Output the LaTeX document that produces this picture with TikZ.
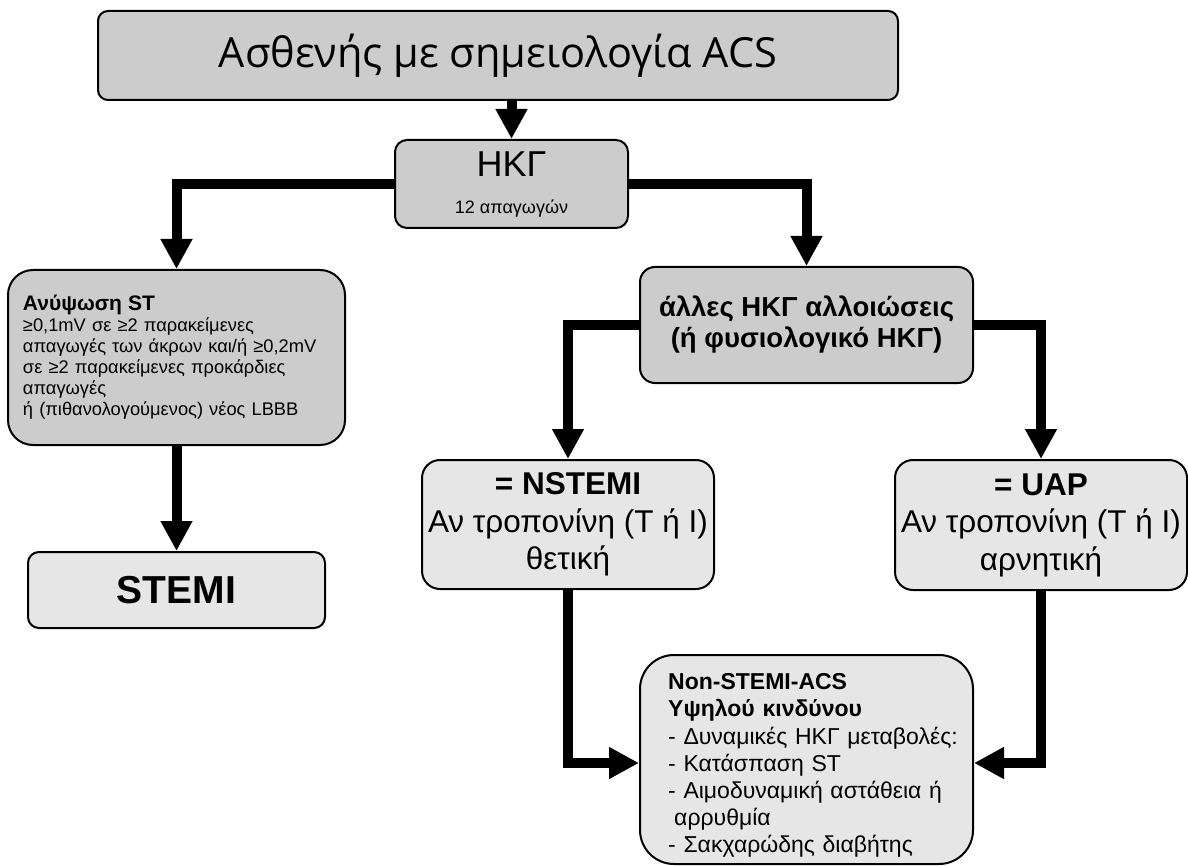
\documentclass[tikz,border=0pt]{standalone}
\usepackage{fontspec}
\setmainfont{Liberation Sans}
\newfontfamily\titlefont{Open Sans}
\usetikzlibrary{arrows.meta}
\definecolor{boxdark}{HTML}{CCCCCC}
\definecolor{boxlight}{HTML}{E6E6E6}
\newcommand{\fs}[2]{\fontsize{#1}{#2}\selectfont}
\begin{document}
\begin{tikzpicture}[x=1pt,y=-1pt,
  darkbox/.style={draw=black, line width=2pt, fill=boxdark, inner sep=0pt, align=center},
  lightbox/.style={draw=black, line width=2pt, fill=boxlight, inner sep=0pt, align=center},
  flow/.style={line width=10pt, line join=miter, -{Triangle[width=30pt,length=30pt]}}
]
\useasboundingbox (0,0) rectangle (1188,866);

% boxes
\node[darkbox, rounded corners=10pt, minimum width=800pt, minimum height=89pt,
  font=\titlefont\fs{41.5}{50}]
  (patient) at (498,55.5) {Ασθενής με σημειολογία ACS};
\node[darkbox, rounded corners=12pt, minimum width=233pt, minimum height=88pt,
  font=\fs{18}{37}]
  (ecg) at (511.5,184) {{\fs{36}{37}ΗΚΓ}\\12 απαγωγών};
\node[darkbox, rounded corners=25pt, minimum width=337pt, minimum height=175pt,
  text width=307pt, align=left, font=\fs{18.3}{21}]
  (ste) at (176.5,357.5) {{\fs{21}{21}\bfseries Ανύψωση ST}\\
  ≥0,1mV σε ≥2 παρακείμενες\\
  απαγωγές των άκρων και/ή ≥0,2mV\\
  σε ≥2 παρακείμενες προκάρδιες\\
  απαγωγές\\
  ή (πιθανολογούμενος) νέος LBBB};
\node[lightbox, rounded corners=11pt, minimum width=297pt, minimum height=76pt,
  font=\bfseries\fs{39}{44}]
  (stemi) at (176.5,590) {STEMI};
\node[darkbox, rounded corners=15pt, minimum width=333pt, minimum height=116pt,
  font=\bfseries\fs{27.5}{31}]
  (other) at (806.5,325) {άλλες ΗΚΓ αλλοιώσεις\\(ή φυσιολογικό ΗΚΓ)};
\node[lightbox, rounded corners=18pt, minimum width=292pt, minimum height=129pt,
  font=\fs{31.5}{37.5}]
  (nstemi) at (568,524.5) {\textbf{= NSTEMI}\\Αν τροπονίνη (Τ ή Ι)\\θετική};
\node[lightbox, rounded corners=18pt, minimum width=292pt, minimum height=130pt,
  font=\fs{31.5}{37.5}]
  (uap) at (1041,525) {\textbf{= UAP}\\Αν τροπονίνη (Τ ή Ι)\\αρνητική};
\node[lightbox, rounded corners=34pt, minimum width=333pt, minimum height=209pt]
  (nsacs) at (806.5,759.5) {};
\node[anchor=north west, inner sep=0pt, text width=300pt, align=left,
  font=\fs{23}{27.2}]
  (nsacs-text) at (668,673.5) {\textbf{Non-STEMI-ACS}\\
  \textbf{Υψηλού κινδύνου}\\
  - Δυναμικές ΗΚΓ μεταβολές:\\
  - Κατάσπαση ST\\
  - Αιμοδυναμική αστάθεια ή\\
  \hspace*{6pt}αρρυθμία\\
  - Σακχαρώδης διαβήτης};

% connectors
\draw[flow] (patient.south -| ecg.north) -- (ecg.north);
\draw[flow] (ecg.west) -| (ste.north);
\draw[flow] (ecg.east) -| (other.north);
\draw[flow] (ste.south) -- (stemi.north);
\draw[flow] (other.west) -| (nstemi.north);
\draw[flow] (other.east) -| (uap.north);
\draw[flow] (nstemi.south) |- ([yshift=-3.5pt]nsacs.west);
\draw[flow] (uap.south) |- ([yshift=-3.5pt]nsacs.east);
\end{tikzpicture}
\end{document}
